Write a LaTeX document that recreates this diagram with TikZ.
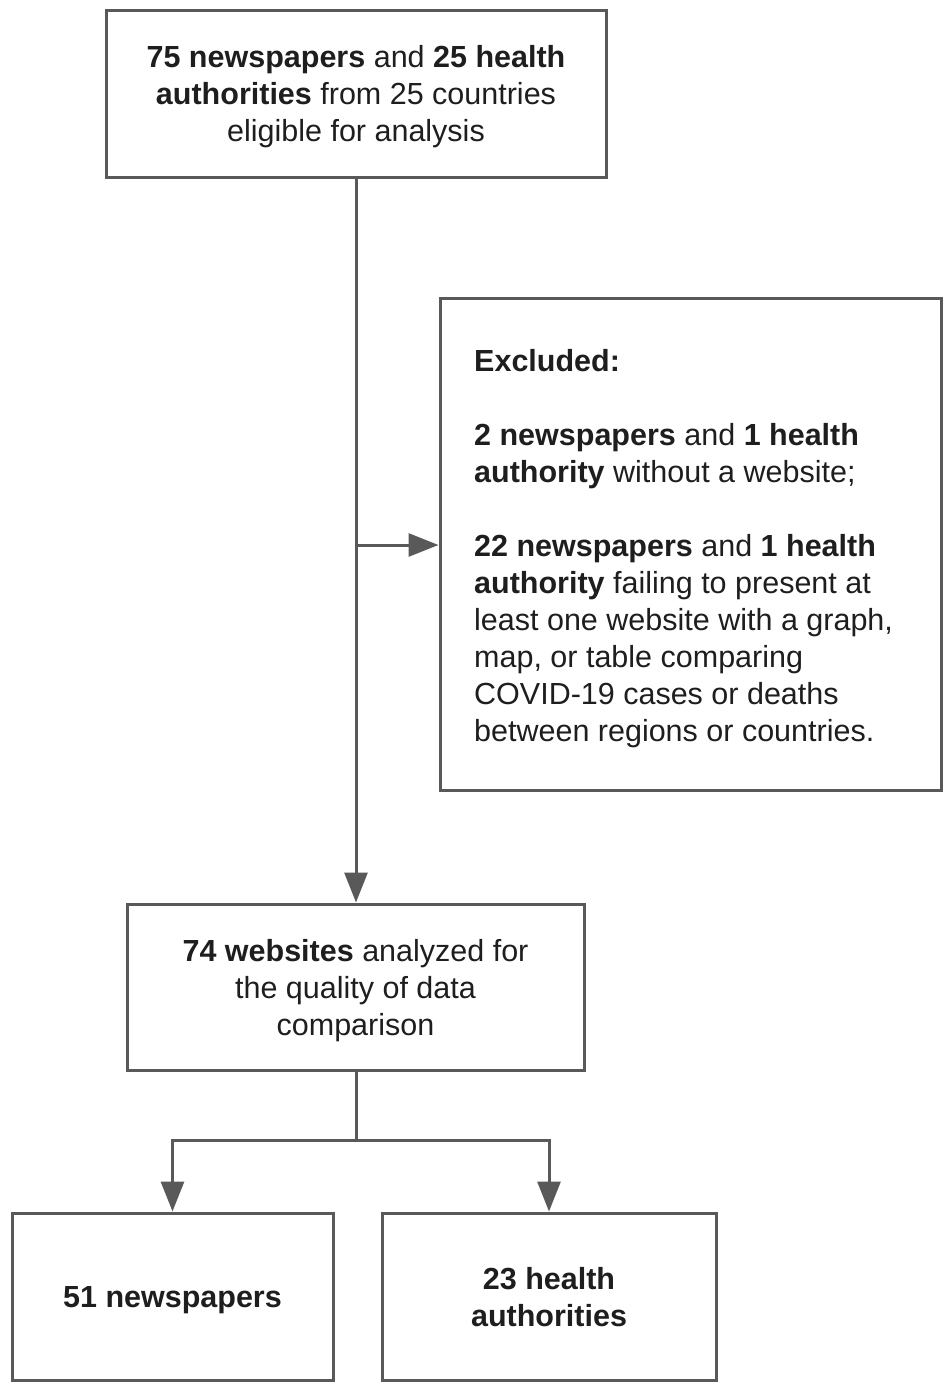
\documentclass[tikz,border=0pt]{standalone}
\usepackage{fontspec}
\setmainfont{Liberation Sans}
\usetikzlibrary{arrows.meta}
\definecolor{linegray}{HTML}{595959}
\definecolor{txt}{HTML}{1E1E1E}
\tikzset{
  box/.style={draw=linegray, line width=3pt, inner sep=0pt, text=txt,
    text depth=0pt, font=\fontsize{30.5}{37}\selectfont},
  conn/.style={draw=linegray, line width=3pt},
  arr/.style={conn, -{Triangle[length=30pt,width=23pt]}},
}
\begin{document}
\begin{tikzpicture}[x=1pt,y=-1pt]
\useasboundingbox (0,0) rectangle (943,1384);
\node[box, minimum width=500pt, minimum height=167pt, align=center] (top) at (356,93.5)
  {\textbf{75 newspapers} and \textbf{25 health}\\
   \textbf{authorities} from 25 countries\\
   eligible for analysis};
\node[box, minimum width=501pt, minimum height=492pt] (excl) at (690.5,544) {};
\node[anchor=north west, inner sep=0pt, align=left, text=txt,
  font=\fontsize{30.5}{37}\selectfont] (excltext) at (474,349)
  {\textbf{Excluded:}\\[37pt]
   \textbf{2 newspapers} and \textbf{1 health}\\
   \textbf{authority} without a website;\\[37pt]
   \textbf{22 newspapers} and \textbf{1 health}\\
   \textbf{authority} failing to present at\\
   least one website with a graph,\\
   map, or table comparing\\
   COVID-19 cases or deaths\\
   between regions or countries.};
\node[box, minimum width=457pt, minimum height=166pt, align=center] (mid) at (355.5,987)
  {\textbf{74 websites} analyzed for\\
   the quality of data\\
   comparison};
\node[box, minimum width=321pt, minimum height=167pt, align=center] (news) at (172.5,1296.5)
  {\textbf{51 newspapers}};
\node[box, minimum width=334pt, minimum height=167pt, align=center] (health) at (549,1296.5)
  {\textbf{23 health}\\ \textbf{authorities}};
\coordinate (branch) at (356,545);
\coordinate (split) at (356,1140);
\draw[arr] (top.south -| branch) -- (mid.north -| branch);
\draw[arr] (branch) -- (branch -| excl.west);
\draw[conn] (mid.south -| split) -- (split);
\draw[arr] (split) -| (news.north);
\draw[arr] (split) -| (health.north);
\end{tikzpicture}
\end{document}
